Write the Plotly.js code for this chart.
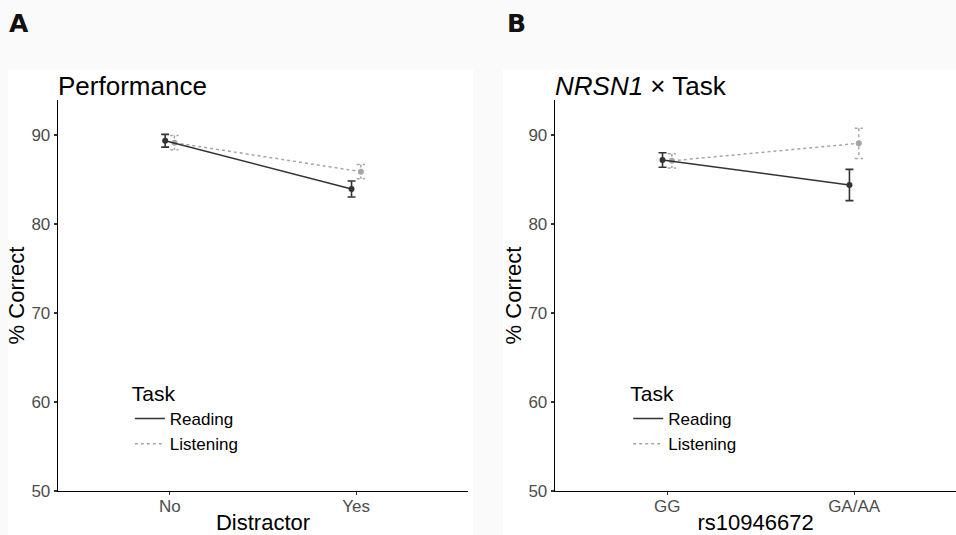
<!DOCTYPE html>
<html>
<head>
<meta charset="utf-8">
<script src="https://cdn.plot.ly/plotly-3.0.1.min.js"></script>
<style>html,body{margin:0;padding:0;background:#fafafa;}#chart{width:956px;height:535px;}</style>
</head>
<body>
<div id="chart"></div>
<script>
// ---- Data ----
const taskNames = ['Reading', 'Listening'];
const distractorCats = ['No', 'Yes'];
const perfReadingMean = [89.35, 83.93];
const perfReadingSE = [0.72, 0.90];
const perfListeningMean = [89.13, 85.88];
const perfListeningSE = [0.80, 0.80];

const genoCats = ['GG', 'GA/AA'];
const genoReadingMean = [87.19, 84.38];
const genoReadingSE = [0.82, 1.75];
const genoListeningMean = [87.10, 89.06];
const genoListeningSE = [0.80, 1.70];

const yTicks = [50, 60, 70, 80, 90];

// ---- Styling ----
const readCol = '#333333';
const listCol = '#a6a6a6';
const dodge = 0.025;
const capHalf = 0.022;
const FONT = 'Liberation Sans, Arial, sans-serif';

function pos(cats, off) { return cats.map((c, i) => i + 1 + off); }

function dottedErr(xs, means, ses) {
  const x = [], y = [];
  xs.forEach((xi, i) => {
    const hi = means[i] + ses[i], lo = means[i] - ses[i];
    x.push(xi - capHalf, xi + capHalf, null, xi, xi, null, xi - capHalf, xi + capHalf, null);
    y.push(hi, hi, null, hi, lo, null, lo, lo, null);
  });
  return { x: x, y: y };
}

function panelTraces(cats, rMean, rSE, lMean, lSE, xa, ya, leg) {
  const xr = pos(cats, -dodge), xl = pos(cats, dodge);
  const err = dottedErr(xl, lMean, lSE);
  return [
    { x: xl, y: lMean, mode: 'lines', name: taskNames[1], legend: leg, xaxis: xa, yaxis: ya,
      line: { color: listCol, width: 1.5, dash: 'dot' }, hoverinfo: 'skip' },
    { x: err.x, y: err.y, mode: 'lines', showlegend: false,
      xaxis: xa, yaxis: ya, line: { color: listCol, width: 1.5, dash: 'dot' }, hoverinfo: 'skip', connectgaps: false },
    { x: xl, y: lMean, mode: 'markers', showlegend: false, xaxis: xa, yaxis: ya,
      marker: { color: listCol, size: 6 } },
    { x: xr, y: rMean, mode: 'lines', name: taskNames[0], legend: leg, xaxis: xa, yaxis: ya,
      line: { color: readCol, width: 1.6 }, hoverinfo: 'skip' },
    { x: xr, y: rMean, mode: 'markers', showlegend: false, xaxis: xa, yaxis: ya,
      marker: { color: readCol, size: 6 },
      error_y: { type: 'data', array: rSE, visible: true, color: readCol, thickness: 1.6, width: 4 } }
  ];
}

const tA = panelTraces(distractorCats, perfReadingMean, perfReadingSE, perfListeningMean, perfListeningSE, 'x', 'y', 'legend');
const tB = panelTraces(genoCats, genoReadingMean, genoReadingSE, genoListeningMean, genoListeningSE, 'x2', 'y2', 'legend2');

const tickfont = { family: FONT, size: 17, color: '#4d4d4d' };
const titlefont = { family: FONT, size: 22, color: '#000' };

function xAxis(dom, cats, title, yanchor) {
  return {
    domain: dom, range: [0.4, 2.6], anchor: yanchor,
    tickvals: cats.map((c, i) => i + 1), ticktext: cats,
    showline: true, linecolor: '#000', linewidth: 1.3, mirror: false,
    ticks: 'outside', ticklen: 3, tickcolor: '#333', tickwidth: 1.2,
    tickfont: tickfont, showgrid: false, zeroline: false, ticklabelstandoff: -4,
    title: { text: title, font: titlefont, standoff: 5 }, automargin: false
  };
}
function yAxis(xanchor) {
  return {
    domain: [0, 1], range: [50, 93.93], anchor: xanchor,
    tickvals: yTicks, ticktext: yTicks.map(String),
    showline: true, linecolor: '#000', linewidth: 1.3,
    ticks: 'outside', ticklen: 3, tickcolor: '#333', tickwidth: 1.2,
    tickfont: tickfont, showgrid: false, zeroline: false,
    title: { text: '% Correct', font: titlefont, standoff: 0 }, automargin: false
  };
}

const legendBase = {
  font: { family: FONT, size: 17, color: '#000' },
  title: { text: 'Task', font: { family: FONT, size: 21, color: '#000' } },
  bgcolor: 'rgba(0,0,0,0)', itemwidth: 30, tracegroupgap: 0,
  xanchor: 'left', yanchor: 'top', traceorder: 'reversed'
};

const xA = xAxis([0, 0.4566], distractorCats, 'Distractor', 'y');
const xB = xAxis([0.5535, 1], genoCats, 'rs10946672', 'y2');
xB.range = [0.4, 2.545];

const layout = {
  width: 956, height: 535,
  margin: { l: 58, r: 0, t: 100, b: 44 },
  paper_bgcolor: '#fafafa', plot_bgcolor: 'rgba(0,0,0,0)',
  font: { family: FONT },
  xaxis: xA, yaxis: yAxis('x'),
  xaxis2: xB, yaxis2: yAxis('x2'),
  legend: Object.assign({}, legendBase, { x: 0.08, y: 0.3 }),
  legend2: Object.assign({}, legendBase, { x: 0.635, y: 0.3 }),
  shapes: [
    { type: 'rect', xref: 'paper', yref: 'paper', x0: -0.056, x1: 0.462, y0: -0.15, y1: 1.078, layer: 'below',
      fillcolor: '#ffffff', line: { width: 0 } },
    { type: 'rect', xref: 'paper', yref: 'paper', x0: 0.4955, x1: 1.01, y0: -0.15, y1: 1.078, layer: 'below',
      fillcolor: '#ffffff', line: { width: 0 } }
  ],
  annotations: [
    { text: 'Performance', xref: 'x domain', yref: 'paper', x: 0, y: 1, xanchor: 'left', yanchor: 'bottom',
      yshift: -3, xshift: -2, showarrow: false, font: { family: FONT, size: 26, color: '#000' } },
    { text: '<i>NRSN1</i> × Task', xref: 'x2 domain', yref: 'paper', x: 0, y: 1, xanchor: 'left', yanchor: 'bottom',
      yshift: -3, xshift: -2, showarrow: false, font: { family: FONT, size: 26, color: '#000' } },
    { text: '<b>A</b>', xref: 'paper', yref: 'paper', x: -0.057, y: 1.196, xanchor: 'left', yanchor: 'middle',
      showarrow: false, font: { family: 'DejaVu Sans, sans-serif', size: 25, color: '#111' } },
    { text: '<b>B</b>', xref: 'paper', yref: 'paper', x: 0.498, y: 1.196, xanchor: 'left', yanchor: 'middle',
      showarrow: false, font: { family: 'DejaVu Sans, sans-serif', size: 25, color: '#111' } }
  ],
  showlegend: true
};

Plotly.newPlot('chart', tA.concat(tB), layout, { displayModeBar: false, staticPlot: true });
</script>
</body>
</html>
